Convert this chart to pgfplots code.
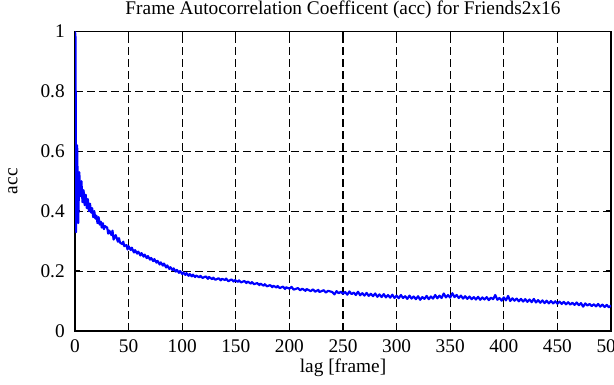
\documentclass[border=0pt]{standalone}
\usepackage{pgfplots}
\pgfplotsset{compat=1.18}
\usepackage{fontspec}
\setmainfont{Liberation Serif}
\begin{document}
\begin{tikzpicture}[font=\fontsize{14.5}{17}\selectfont]
\begin{axis}[
  scale only axis,
  width=402pt, height=224.6pt,
  xmin=0, xmax=500, ymin=0, ymax=1,
  xtick={0,50,...,500},
  ytick={0,0.2,0.4,0.6,0.8,1},
  /pgf/number format/assume math mode=true,
  tick align=inside,
  major tick length=4pt,
  tick style={black, line width=1pt},
  axis line style={black, line width=1.2pt},
  grid=major,
  major grid style={black, line width=0.8pt, dash pattern=on 6pt off 3pt},
  title={Frame Autocorrelation Coefficent (acc) for Friends2x16},
  every axis title/.style={at={(0.5,1)}, anchor=base, yshift=12.8pt, inner sep=0pt},
  xlabel={lag [frame]},
  every axis x label/.style={at={(0.5,0)}, anchor=base, yshift=-31.5pt, inner sep=0pt},
  ylabel={acc},
  every axis y label/.style={at={(0,0.5)}, anchor=center, rotate=90, yshift=46.5pt, inner sep=0pt},
  xticklabel style={anchor=base, yshift=-16.5pt, inner sep=0pt},
  yticklabel style={anchor=east, xshift=-7.5pt, inner sep=0pt},
]
\addplot[blue, line width=1.6pt, line join=round] coordinates {
(0,1.0) (0.5,0.98) (1,0.33) (2,0.62) (3,0.36) (4,0.53) (5,0.45) (6,0.50) (7,0.43) (8,0.47) (9,0.42)
(10,0.455) (11,0.41) (12,0.44) (13,0.40) (14,0.425) (15,0.395) (16,0.41) (17,0.38) (18,0.40) (19,0.375)
(20,0.385) (21,0.36) (22,0.38) (23,0.355) (24,0.365) (25,0.345) (26,0.36) (27,0.34) (28,0.35) (30,0.345) (31,0.325) (32,0.335) (34,0.32) (35,0.335) (36,0.305) (38,0.32)
(40,0.298) (41,0.31) (42,0.295) (44,0.29) (45,0.298) (46,0.283) (48,0.287) (49,0.272) (50,0.283) (52,0.27) (53,0.278) (55,0.262) (56,0.27) (58,0.258) (59,0.265) (61,0.252) (62,0.26)
(64,0.248) (65,0.255) (67,0.243) (68,0.25) (70,0.238) (71,0.244) (73,0.233) (74,0.24) (76,0.228) (77,0.234) (79,0.222) (80,0.229) (82,0.218) (83,0.225) (85,0.212) (86,0.219) (88,0.207) (89,0.213) (91,0.203) (92,0.209)
(94,0.198) (95,0.204) (97,0.194) (98,0.2) (100,0.19) (101,0.195) (103,0.187) (104,0.193) (106,0.184) (107,0.19) (109,0.182) (110,0.188) (112,0.18) (113,0.185) (116,0.179) (117,0.184) (119,0.177) (122,0.182)
(124,0.174) (125,0.18) (128,0.173) (129,0.178) (131,0.171) (134,0.176) (136,0.169) (137,0.174) (140,0.17) (141,0.175) (143,0.166) (146,0.172) (148,0.165) (149,0.17) (152,0.164) (153,0.169)
(155,0.162) (158,0.167) (160,0.16) (161,0.165) (164,0.158) (165,0.163) (167,0.156) (170,0.16) (172,0.153) (173,0.158) (176,0.151) (177,0.156) (179,0.149) (182,0.153)
(184,0.146) (185,0.151) (188,0.145) (189,0.15) (191,0.143) (194,0.148) (196,0.14) (197,0.146) (200,0.141) (202,0.147) (204,0.138) (208,0.143) (210,0.136) (212,0.141) (215,0.134) (216,0.14)
(220,0.133) (222,0.139) (224,0.131) (227,0.137) (228,0.13) (232,0.136) (234,0.128) (236,0.134) (240,0.13) (242,0.122) (244,0.133) (246,0.126) (248,0.131) (250,0.124) (252,0.13) (254,0.121) (256,0.132)
(258,0.123) (260,0.128) (262,0.12) (264,0.131) (266,0.119) (268,0.126) (270,0.118) (272,0.127) (274,0.117) (276,0.124) (278,0.116) (280,0.125) (282,0.114) (284,0.122) (286,0.113) (288,0.123) (290,0.112) (292,0.12) (294,0.111) (296,0.121)
(298,0.11) (300,0.118) (302,0.109) (304,0.12) (306,0.11) (308,0.116) (310,0.107) (312,0.118) (314,0.108) (316,0.115) (318,0.106) (320,0.116) (322,0.104) (324,0.113) (326,0.107) (328,0.117) (330,0.106) (332,0.115) (334,0.108) (336,0.12)
(338,0.109) (340,0.118) (342,0.11) (344,0.125) (346,0.112) (348,0.12) (350,0.111) (352,0.126) (354,0.113) (356,0.12) (358,0.11) (360,0.118) (362,0.108) (364,0.116) (366,0.107) (368,0.115) (370,0.106) (372,0.113) (374,0.105) (376,0.114)
(378,0.104) (380,0.112) (382,0.105) (384,0.113) (386,0.103) (388,0.111) (390,0.106) (392,0.12) (394,0.104) (396,0.11) (398,0.101) (400,0.112) (402,0.102) (404,0.117) (406,0.1) (408,0.109) (410,0.101) (412,0.108) (414,0.099) (416,0.107)
(418,0.098) (420,0.106) (422,0.097) (424,0.105) (426,0.096) (428,0.107) (430,0.095) (432,0.103) (434,0.094) (436,0.102) (438,0.093) (440,0.101) (442,0.092) (444,0.1) (446,0.092) (448,0.099) (450,0.091) (452,0.098) (454,0.09) (456,0.097)
(458,0.089) (460,0.096) (462,0.088) (464,0.094) (466,0.087) (468,0.095) (470,0.086) (472,0.093) (474,0.081) (476,0.092) (478,0.085) (480,0.09) (482,0.083) (484,0.089) (486,0.082) (488,0.09) (490,0.081) (492,0.088) (494,0.08) (496,0.087)
(498,0.079) (500,0.085)
};
\end{axis}
\pgfresetboundingbox
\path[use as bounding box] ([shift={(-56.25pt,-40.5pt)}]current axis.south west) rectangle ([shift={(2.25pt,23.6pt)}]current axis.north east);
\end{tikzpicture}
\end{document}
